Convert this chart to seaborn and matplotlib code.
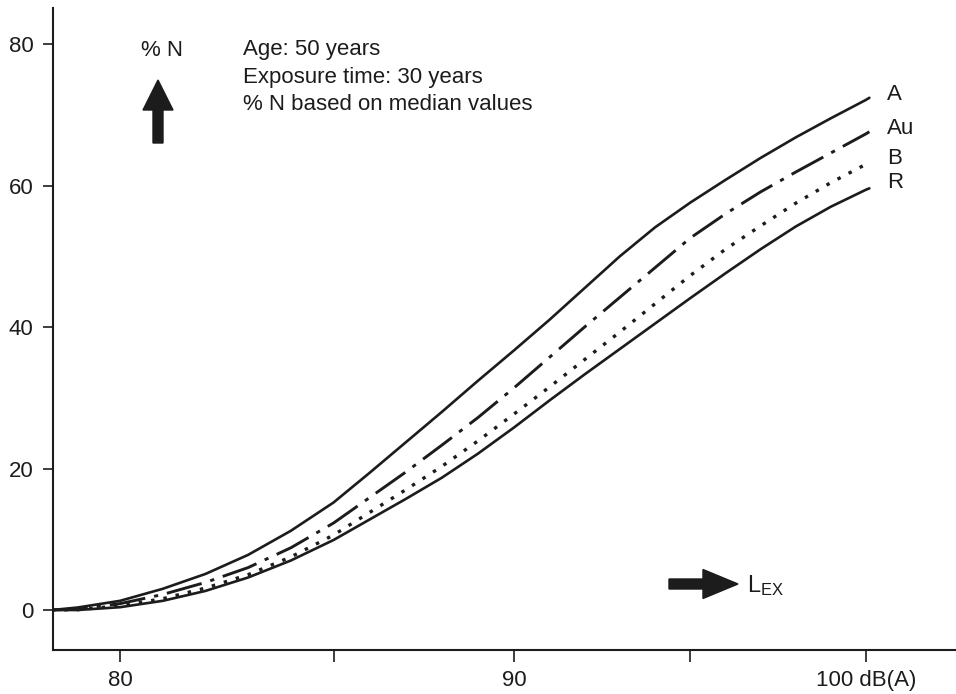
import numpy as np
import pandas as pd
import matplotlib
matplotlib.use("Agg")
import matplotlib.pyplot as plt
from matplotlib.patches import FancyArrow
import seaborn as sns

# Exposure level L_EX in dB(A) and percentage N of hearing-impaired persons
level_db = [78.4, 79, 80, 81, 82, 83, 84, 85, 86, 87, 88, 89, 90,
            91, 92, 93, 94, 95, 96, 97, 98, 99, 100, 100.1]
pct_A = [0, 0.35, 1.3, 3.0, 5.1, 7.8, 11.2, 15.2, 19.4, 23.7, 28.0, 32.4, 36.7,
         41.0, 45.5, 50.0, 54.1, 57.6, 60.8, 63.9, 66.8, 69.5, 72.1, 72.4]
pct_Au = [0, 0.15, 0.9, 2.2, 3.9, 6.0, 8.8, 12.3, 15.9, 19.5, 23.3, 27.2, 31.4,
          35.7, 40.0, 44.2, 48.4, 52.6, 56.0, 59.1, 61.9, 64.6, 67.3, 67.6]
pct_B = [0, 0.05, 0.6, 1.6, 3.1, 5.0, 7.5, 10.6, 13.8, 17.0, 20.3, 23.9, 27.7,
         31.5, 35.4, 39.3, 43.3, 47.3, 51.0, 54.3, 57.5, 60.4, 63.0, 63.3]
pct_R = [0, 0, 0.4, 1.3, 2.7, 4.6, 7.0, 9.9, 12.8, 15.7, 18.7, 22.1, 25.8,
         29.6, 33.3, 36.9, 40.5, 44.1, 47.6, 51.0, 54.2, 57.0, 59.4, 59.6]
curve_names = ["A", "Au", "B", "R"]

x_ticks = [80, 85, 90, 95, 100]
x_tick_labels = ["80", "", "90", "", "100 dB(A)"]
y_ticks = [0, 20, 40, 60, 80]
notes = ["Age: 50 years", "Exposure time: 30 years", "% N based on median values"]

df = pd.DataFrame({
    "level": level_db * 4,
    "pct": pct_A + pct_Au + pct_B + pct_R,
    "curve": [n for n in curve_names for _ in level_db],
})

sns.set_style("white")
plt.rcParams["font.family"] = ["Liberation Sans", "DejaVu Sans"]
plt.rcParams["mathtext.fontset"] = "custom"
plt.rcParams["mathtext.rm"] = "Liberation Sans"
plt.rcParams["lines.scale_dashes"] = False

W, H = 956, 694
fig = plt.figure(figsize=(W / 100, H / 100), dpi=100)
ax = fig.add_axes([53 / W, 44 / H, 902 / W, 642 / H])

ink = "#1c1c1c"
line_styles = {
    "A": dict(linestyle="-", lw=1.9),
    "Au": dict(linestyle=(0, (26, 6.5, 3, 6.5)), lw=2.1),
    "B": dict(linestyle=(0, (2.5, 6.5)), lw=2.4),
    "R": dict(linestyle="-", lw=1.9),
}
for name in curve_names:
    sub = df[df["curve"] == name]
    sns.lineplot(data=sub, x="level", y="pct", ax=ax, color=ink,
                 estimator=None, sort=False, legend=False,
                 solid_joinstyle="round", **line_styles[name])

# the printed dB axis is drawn with uneven spacing between its ticks
db_knots = [75, 80, 85, 90, 95, 100, 105]
pos_knots = [-91, 122, 335, 515, 691, 866, 1041]


def fwd(x):
    return np.interp(x, db_knots, pos_knots)


def inv(p):
    return np.interp(p, pos_knots, db_knots)


ax.set_xscale("function", functions=(fwd, inv))
ax.set_xlim(78.43, 102.54)
ax.set_ylim(-5.65, 85.09)
ax.set_xticks(x_ticks)
ax.set_xticklabels(x_tick_labels)
ax.set_yticks(y_ticks)
ax.set_xlabel("")
ax.set_ylabel("")

for side in ["top", "right"]:
    ax.spines[side].set_visible(False)
for side in ["left", "bottom"]:
    ax.spines[side].set_linewidth(1.5)
    ax.spines[side].set_color(ink)

ax.tick_params(axis="x", direction="out", length=8.5, width=1.2, pad=6,
               labelsize=16, colors=ink, bottom=True)
ax.tick_params(axis="y", direction="out", length=7, width=1.2, pad=7,
               labelsize=16, colors=ink, left=True)

# axis direction arrows
up = FancyArrow(1.58, (H - 143) / 100, 0, 0.63, width=0.10, head_width=0.30,
                head_length=0.30, length_includes_head=True, color=ink,
                transform=fig.dpi_scale_trans)
right = FancyArrow(6.69, (H - 584) / 100, 0.69, 0, width=0.10, head_width=0.29,
                   head_length=0.35, length_includes_head=True, color=ink,
                   transform=fig.dpi_scale_trans)
fig.patches.extend([up, right])

fig.text(162 / W, 1 - 50 / H, "% N", ha="center", va="center", fontsize=16, color=ink)
fig.text(747 / W, 1 - 586 / H, r"$\mathregular{L_{EX}}$", ha="left", va="center",
         fontsize=17, color=ink)

for note, y in zip(notes, [50, 77, 104]):
    fig.text(243 / W, 1 - y / H, note, ha="left", va="center", fontsize=16, color=ink)

for name, y in zip(curve_names, [95, 129, 158, 182]):
    fig.text(887 / W, 1 - y / H, name, ha="left", va="center", fontsize=16, color=ink)

fig.savefig("out.png", dpi=100, facecolor="white")
